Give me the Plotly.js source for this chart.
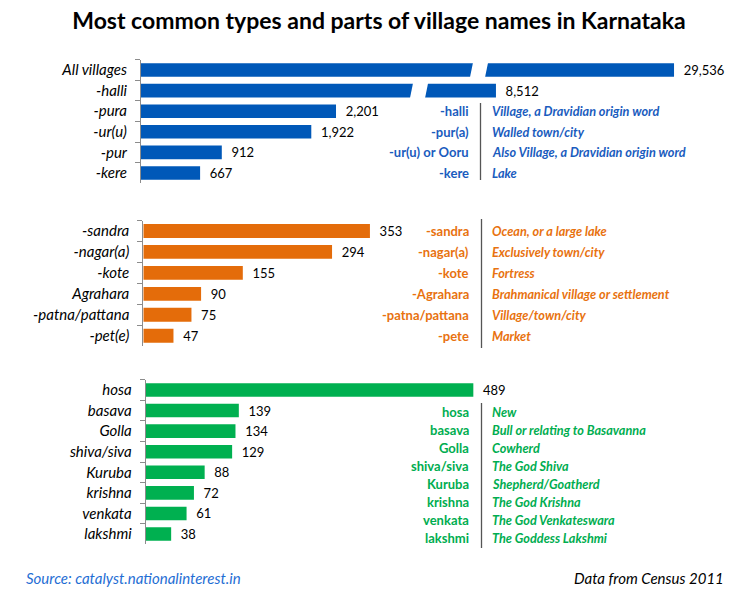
<!DOCTYPE html>
<html><head><meta charset="utf-8">
<script src="https://cdn.plot.ly/plotly-3.0.1.min.js"></script>
<style>body{margin:0;background:#fff}#chart{width:739px;height:593px}</style>
</head><body><div id="chart"></div>
<script>
// ---------- data ----------
const blueCats = ['All villages', '-halli', '-pura', '-ur(u)', '-pur', '-kere'];
const blueVals = [29536, 8512, 2201, 1922, 912, 667];
const orangeCats = ['-sandra', '-nagar(a)', '-kote', 'Agrahara', '-patna/pattana', '-pet(e)'];
const orangeVals = [353, 294, 155, 90, 75, 47];
const greenCats = ['hosa', 'basava', 'Golla', 'shiva/siva', 'Kuruba', 'krishna', 'venkata', 'lakshmi'];
const greenVals = [489, 139, 134, 129, 88, 72, 61, 38];

const blueTerms = ['-halli', '-pur(a)', '-ur(u) or Ooru', '-kere'];
const blueMeanings = ['Village, a Dravidian origin word', 'Walled town/city', 'Also Village, a Dravidian origin word', 'Lake'];
const orangeTerms = ['-sandra', '-nagar(a)', '-kote', '-Agrahara', '-patna/pattana', '-pete'];
const orangeMeanings = ['Ocean, or a large lake', 'Exclusively town/city', 'Fortress', 'Brahmanical village or settlement', 'Village/town/city', 'Market'];
const greenTerms = ['hosa', 'basava', 'Golla', 'shiva/siva', 'Kuruba', 'krishna', 'venkata', 'lakshmi'];
const greenMeanings = ['New', 'Bull or relating to Basavanna', 'Cowherd', 'The God Shiva', 'Shepherd/Goatherd', 'The God Krishna', 'The God Venkateswara', 'The Goddess Lakshmi'];

const titleText = 'Most common types and parts of village names in Karnataka';
const sourceText = 'Source: catalyst.nationalinterest.in';
const noteText = 'Data from Census 2011';

// ---------- style / layout constants ----------
const W = 739, H = 593;
const FONT = 'Lato, "Open Sans", "DejaVu Sans", sans-serif';
const BLUE = '#0058B8', ORANGE = '#E46C0A', GREEN = '#00B050';
const BLUE_TXT = '#1A5CBE', ORANGE_TXT = '#E8720F', GREEN_TXT = '#00AD50';
const AXIS_GREY = '#8c8c8c';
const px = v => v / W;
const py = v => 1 - v / H;

// broken-axis display for the very long blue bars
const breakStart = 3530, breakScale = 0.0956;
const shown = v => v <= breakStart ? v : breakStart + (v - breakStart) * breakScale;
const gapCentre = {'All villages': 3815, '-halli': 3138};

const fmt = v => '\u00A0\u00A0' + v.toLocaleString('en-US');
const ital = c => '<i>' + c + '</i>';

function barTrace(cats, vals, color, xa, ya, transform) {
  return {
    type: 'bar', orientation: 'h',
    y: cats.map(ital), x: vals.map(transform || (v => v)),
    text: vals.map(fmt), textposition: 'outside', cliponaxis: false,
    constraintext: 'none',
    textfont: {family: FONT, size: 13, color: '#000'},
    marker: {color: color}, xaxis: xa, yaxis: ya, hoverinfo: 'skip'
  };
}

const data = [
  barTrace(blueCats, blueVals, BLUE, 'x', 'y', shown),
  barTrace(orangeCats, orangeVals, ORANGE, 'x2', 'y2'),
  barTrace(greenCats, greenVals, GREEN, 'x3', 'y3')
];

function yAxis(cats, top, bottom, anchor) {
  return {
    type: 'category', categoryorder: 'array', categoryarray: cats.map(ital),
    autorange: 'reversed', domain: [py(bottom), py(top)], anchor: anchor,
    showline: true, linecolor: AXIS_GREY, linewidth: 1,
    ticks: 'outside', tickson: 'boundaries', ticklen: 5, tickcolor: AXIS_GREY,
    tickfont: {family: FONT, size: 15, color: '#000'},
    ticklabelstandoff: 10, showgrid: false, zeroline: false, fixedrange: true
  };
}
function xAxis(startPx, pxPerUnit, anchor) {
  return {
    domain: [px(startPx), 1], range: [0, (W - startPx) / pxPerUnit],
    anchor: anchor, visible: false, fixedrange: true
  };
}

const shapes = [];
// slanted white gaps showing the axis break
blueCats.forEach((c, i) => {
  if (gapCentre[c] === undefined) return;
  const g = gapCentre[c], hw = 85, s = 18, t = i - 0.38, b = i + 0.38;
  shapes.push({
    type: 'path', xref: 'x', yref: 'y', layer: 'above',
    path: `M ${g - hw + s},${t} L ${g + hw + s},${t} L ${g + hw - s},${b} L ${g - hw - s},${b} Z`,
    fillcolor: '#fff', line: {width: 0}
  });
});
// vertical separators of the glossary tables
[[480.5, 103, 180], [481.5, 219, 348], [481.5, 403, 548]].forEach(([x, y0, y1]) => {
  shapes.push({type: 'line', xref: 'paper', yref: 'paper', x0: px(x), x1: px(x), y0: py(y0), y1: py(y1),
    line: {color: '#555', width: 1.3}});
});

const annotations = [];
function glossary(terms, meanings, color, yref, yFor) {
  terms.forEach((t, i) => {
    const y = yFor(i);
    annotations.push({text: '<b>' + t + '</b>', xref: 'paper', yref: yref, x: px(471), y: y,
      xanchor: 'right', yanchor: 'middle', showarrow: false,
      font: {family: FONT, size: 13, color: color}});
    annotations.push({text: '<b><i>' + meanings[i] + '</i></b>', xref: 'paper', yref: yref, x: px(490), y: y,
      xanchor: 'left', yanchor: 'middle', showarrow: false,
      font: {family: FONT, size: 12.7, color: color}});
  });
}
glossary(blueTerms, blueMeanings, BLUE_TXT, 'y', i => i + 2);
glossary(orangeTerms, orangeMeanings, ORANGE_TXT, 'y2', i => i);
glossary(greenTerms, greenMeanings, GREEN_TXT, 'paper', i => py(412 + 18 * i));

annotations.push({text: '<i>' + sourceText + '</i>', xref: 'paper', yref: 'paper', x: px(24), y: py(578),
  xanchor: 'left', yanchor: 'middle', showarrow: false,
  font: {family: FONT, size: 15, color: '#1F6ED4'}});
annotations.push({text: '<i>' + noteText + '</i>', xref: 'paper', yref: 'paper', x: px(726), y: py(578),
  xanchor: 'right', yanchor: 'middle', showarrow: false,
  font: {family: FONT, size: 15, color: '#000'}});

const layout = {
  width: W, height: H, margin: {l: 0, r: 0, t: 0, b: 0},
  paper_bgcolor: '#fff', plot_bgcolor: 'rgba(0,0,0,0)',
  showlegend: false, bargap: 0.34,
  font: {family: FONT},
  title: {text: '<b>' + titleText + '</b>', x: px(379), xanchor: 'center', xref: 'paper',
    y: py(21), yref: 'container', yanchor: 'middle',
    font: {family: FONT, size: 23, color: '#000'}},
  xaxis: xAxis(141, 0.0886, 'y'),
  xaxis2: xAxis(143.3, 0.642, 'y2'),
  xaxis3: xAxis(145.7, 0.670, 'y3'),
  yaxis: yAxis(blueCats, 59.7, 183.3, 'x'),
  yaxis2: yAxis(orangeCats, 220.5, 346.2, 'x2'),
  yaxis3: yAxis(greenCats, 379.7, 544.3, 'x3'),
  shapes: shapes, annotations: annotations
};

Plotly.newPlot('chart', data, layout, {staticPlot: true, displayModeBar: false});
</script>
</body></html>
